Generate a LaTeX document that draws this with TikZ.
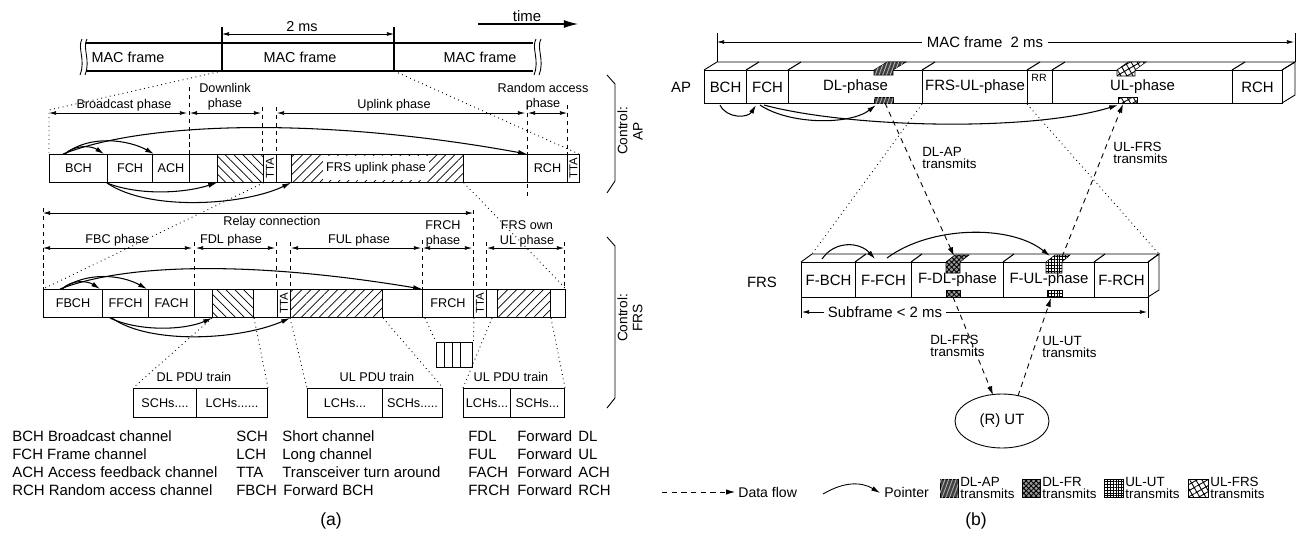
\documentclass[tikz,border=0pt]{standalone}
\usepackage{fontspec}
\setmainfont{Liberation Sans}
\usetikzlibrary{arrows.meta,patterns,patterns.meta,calc,shapes.geometric}
\newcommand\cellbx[7]{\node[cellbox,minimum width={(#4-#2)*0.02cm},minimum height={(#5-#3)*0.02cm},#6] (#1) at (#2,#3) {#7};}
\begin{document}
\begin{tikzpicture}[x=0.02cm,y=-0.02cm,
  cellbox/.style={draw,line width=0.6pt,inner sep=0pt,anchor=north west,font=\fontsize{7.2}{8}\selectfont},
  lab/.style={font=\fontsize{7.2}{8.5}\selectfont,inner sep=0pt,align=center},
  leg/.style={font=\fontsize{8.5}{10}\selectfont,inner sep=0pt,anchor=base west},
  blab/.style={font=\fontsize{8.5}{10}\selectfont,inner sep=0pt},
  tlab/.style={font=\fontsize{7.6}{6.6}\selectfont,inner sep=0pt,align=left,anchor=west},
  dim/.style={{Latex[length=4pt,width=2.2pt]}-{Latex[length=4pt,width=2.2pt]},line width=0.4pt},
  ptr/.style={-{Latex[length=5pt,width=2.8pt]},line width=0.6pt},
  dotl/.style={dotted,line width=0.5pt},
  guide/.style={dash pattern=on 2.5pt off 2pt,line width=0.4pt},
  flow/.style={dash pattern=on 3pt off 2.5pt,-{Latex[length=5pt,width=3pt]},line width=0.5pt},
  hbs/.style={pattern={Lines[angle=-45,distance=3.6pt,line width=0.4pt]}},
  hfs/.style={pattern={Lines[angle=45,distance=3.6pt,line width=0.4pt]}},
  dlap/.style={fill=black!75,postaction={pattern={Lines[angle=70,distance=2pt,line width=0.5pt]},pattern color=black!30}},
  dlfr/.style={fill=black!40,postaction={pattern={Hatch[angle=45,distance=2pt,line width=0.5pt]},pattern color=black}},
  ulut/.style={fill=white,postaction={pattern={Hatch[angle=0,distance=1.6pt,line width=0.45pt]},pattern color=black}},
  ulfrs/.style={fill=white,postaction={pattern={Hatch[angle=30,distance=3pt,line width=0.5pt]},pattern color=black}},
  ttal/.style={rotate=90,font=\fontsize{6.5}{7}\selectfont,inner sep=0pt}
]
\useasboundingbox (0,0) rectangle (1296,538);

% ================= panel (a) =================
% top MAC frame strip
\draw[line width=0.6pt] (86,43) -- (533,43) (86,71) -- (533,71);
\draw[line width=0.6pt] (222,27) -- (222,71) (394,27) -- (394,71);
\draw[line width=0.5pt] (82,39) .. controls (77,48) and (86,60) .. (80,75);
\draw[line width=0.5pt] (87,39) .. controls (82,48) and (91,60) .. (85,75);
\draw[line width=0.5pt] (536,39) .. controls (531,48) and (540,60) .. (534,75);
\draw[line width=0.5pt] (541,39) .. controls (536,48) and (545,60) .. (539,75);
\node[font=\fontsize{8.2}{9}\selectfont,inner sep=0pt] (mf1) at (128,57) {MAC frame};
\node[font=\fontsize{8.2}{9}\selectfont,inner sep=0pt] (mf2) at (300,57) {MAC frame};
\node[font=\fontsize{8.2}{9}\selectfont,inner sep=0pt] (mf3) at (480,57) {MAC frame};
\coordinate (d1) at (222,34); \coordinate (d2) at (394,34);
\draw[dim] (d1) -- (d2);
\node[font=\fontsize{8.2}{9}\selectfont,inner sep=0pt] (twoms) at (302,27) {2 ms};
\node[font=\fontsize{8.5}{9}\selectfont,inner sep=0pt] (time) at (527,16) {time};
\coordinate (t1) at (478,24); \coordinate (t2) at (578,24);
\draw[-{Latex[length=8pt,width=4.5pt]},line width=0.6pt] (t1) -- (t2);

% AP phase labels
\draw[dim] (49,113) -- (187,113);
\node[lab] (tBP) at (124,105) {Broadcast phase};
\draw[dim] (190,113) -- (261,113);
\node[lab] (tDP) at (225,97) {Downlink\\phase};
\draw[dim] (277,113) -- (525,113);
\node[lab] (tUP) at (394,105) {Uplink phase};
\draw[dim] (528,113) -- (567,113);
\node[lab] (tRP) at (543,97) {Random access\\phase};
\draw[guide] (189,87) -- (189,154);
\draw[guide] (262,107) -- (262,154);
\draw[guide] (276,107) -- (276,154);
\draw[guide] (527,105) -- (527,197);
\draw[guide] (567,105) -- (567,154);
\draw[dotl] (222,71) -- (49,110) -- (49,154);
\draw[dotl] (394,71) -- (579,154);

% AP row
\cellbx{BCH}{49}{154}{107}{182}{}{BCH}
\cellbx{FCH}{107}{154}{152}{182}{}{FCH}
\cellbx{ACH}{152}{154}{189}{182}{}{ACH}
\cellbx{e1}{189}{154}{217}{182}{}{}
\cellbx{h1}{217}{154}{263}{182}{hbs}{}
\cellbx{tta1}{263}{154}{276}{182}{}{}
\node[ttal] (tta1t) at (tta1.center) {TTA};
\cellbx{e2}{276}{154}{291}{182}{}{}
\cellbx{FRSul}{291}{154}{463}{182}{hfs}{}
\node[fill=white,font=\fontsize{7.2}{8}\selectfont,inner xsep=2pt,minimum height=0.38cm] (FRSult) at (376,168) {FRS uplink phase};
\cellbx{e3}{463}{154}{527}{182}{}{}
\cellbx{RCH}{527}{154}{567}{182}{}{RCH}
\cellbx{tta2}{567}{154}{579}{182}{}{}
\node[ttal] (tta2t) at (tta2.center) {TTA};

% AP pointers
\draw[ptr] ($(BCH.north west)+(16,0)$) .. controls +(10,-10) and +(-12,-8) .. ($(FCH.north west)+(-3,0)$);
\draw[ptr] ($(BCH.north west)+(16,0)$) .. controls +(25,-20) and +(-25,-14) .. ($(ACH.north west)+(2,0)$);
\draw[ptr] ($(BCH.north west)+(14,0)$) .. controls (150,120) and (330,118) .. (RCH.north west);
\draw[ptr] (FCH.south west) .. controls (140,196) and (185,193) .. (h1.south west);
\draw[ptr] (FCH.south west) .. controls (150,212) and (245,205) .. (FRSul.south west);

% relay / FRS phases
\draw[dim] (43,213) -- (473,213);
\node[lab] (tRC) at (272,222) {Relay connection};
\draw[dim] (43,248) -- (192,248);
\node[lab] (tFBC) at (117,240) {FBC phase};
\draw[dim] (196,248) -- (275,248);
\node[lab] (tFDL) at (231,240) {FDL phase};
\draw[dim] (291,248) -- (421,248);
\node[lab] (tFUL) at (359,240) {FUL phase};
\draw[dim] (423,248) -- (472,248);
\node[lab] (tFRCH) at (443,234) {FRCH\\phase};
\draw[dim] (487,248) -- (564,248);
\node[lab] (tFOWN) at (527,234) {FRS own\\UL phase};
\draw[guide] (43,208) -- (43,289);
\draw[guide] (194,242) -- (194,289);
\draw[guide] (276,242) -- (276,289);
\draw[guide] (290,242) -- (290,289);
\draw[guide] (422,240) -- (422,289);
\draw[guide] (473,210) -- (473,289);
\draw[guide] (486,242) -- (486,289);
\draw[guide] (564,242) -- (564,289);

% FRS row
\cellbx{FBCH}{43}{289}{102}{317}{}{FBCH}
\cellbx{FFCH}{102}{289}{148}{317}{}{FFCH}
\cellbx{FACH}{148}{289}{194}{317}{}{FACH}
\cellbx{f1}{194}{289}{212}{317}{}{}
\cellbx{fh1}{212}{289}{253}{317}{hbs}{}
\cellbx{f2}{253}{289}{277}{317}{}{}
\cellbx{ftta1}{277}{289}{290}{317}{}{}
\node[ttal] (ftta1t) at (ftta1.center) {TTA};
\cellbx{fh2}{290}{289}{382}{317}{hfs}{}
\cellbx{f3}{382}{289}{422}{317}{}{}
\cellbx{FRCH}{422}{289}{473}{317}{}{FRCH}
\cellbx{ftta2}{473}{289}{486}{317}{}{}
\node[ttal] (ftta2t) at (ftta2.center) {TTA};
\cellbx{f4}{486}{289}{497}{317}{}{}
\cellbx{fh3}{497}{289}{550}{317}{hfs}{}
\cellbx{f5}{550}{289}{565}{317}{}{}

% AP -> FRS dotted
\draw[dotl] (h1.south east) -- (FBCH.north west);
\draw[dotl] (FRSul.south east) -- (f5.north east);

% FRS pointers
\draw[ptr] ($(FBCH.north west)+(19,0)$) .. controls +(10,-10) and +(-12,-8) .. ($(FFCH.north west)+(-2,0)$);
\draw[ptr] ($(FBCH.north west)+(19,0)$) .. controls +(25,-18) and +(-25,-14) .. ($(FACH.north west)+(-1,0)$);
\draw[ptr] ($(FBCH.north west)+(17,0)$) .. controls (130,262) and (260,262) .. (FRCH.north west);
\draw[ptr] ($(FFCH.south west)+(8,0)$) .. controls (140,332) and (185,330) .. (fh1.south west);
\draw[ptr] ($(FFCH.south west)+(10,0)$) .. controls (150,345) and (240,340) .. (fh2.south west);

% PDU trains
\cellbx{dls}{133}{388}{196}{417}{}{SCHs....}
\cellbx{dll}{196}{388}{267}{417}{}{LCHs......}
\node[lab] (tdl) at (194,377) {DL PDU train};
\cellbx{ulml}{307}{388}{382}{417}{}{LCHs...}
\cellbx{ulms}{382}{388}{442}{417}{}{SCHs.....}
\node[lab] (tulm) at (377,377) {UL PDU train};
\cellbx{ulrl}{463}{388}{510}{417}{}{LCHs...}
\cellbx{ulrs}{510}{388}{564}{417}{}{SCHs...}
\node[lab] (tulr) at (511,377) {UL PDU train};
% stack of PDUs
\cellbx{stk1}{436}{342}{447}{367}{fill=white,line width=0.8pt}{}
\cellbx{stk2}{444}{342}{455}{367}{fill=white,line width=0.8pt}{}
\cellbx{stk3}{452}{342}{463}{367}{fill=white,line width=0.8pt}{}
\cellbx{stk4}{460}{342}{472}{367}{fill=white,line width=0.8pt}{}
% dotted to PDU trains
\draw[dotl] (fh1.south west) -- (dls.north west);
\draw[dotl] (fh1.south east) -- (dll.north east);
\draw[dotl] (fh2.south west) -- (ulml.north west);
\draw[dotl] (fh2.south east) -- (ulms.north east);
\draw[dotl] ($(FRCH.south west)+(3,0)$) -- (stk1.north west);
\draw[dotl] (FRCH.south east) -- (stk4.north east);
\draw[dotl] ($(f4.south west)+(6,0)$) -- (ulrl.north west);
\draw[dotl] (fh3.south east) -- (ulrs.north east);

% control brackets
\draw[line width=0.5pt] (607,75) -- (615,84) -- (615,181) -- (607,193);
\node[rotate=90,font=\fontsize{7.8}{8.6}\selectfont,align=center,inner sep=0pt] (ctlAP) at (630,131) {Control:\\AP};
\draw[line width=0.5pt] (607,237) -- (615,246) -- (615,398) -- (607,408);
\node[rotate=90,font=\fontsize{7.8}{8.6}\selectfont,align=center,inner sep=0pt] (ctlFRS) at (630,318) {Control:\\FRS};

% legend (a)
\node[leg] (la1) at (12,441) {BCH Broadcast channel};
\node[leg] (la2) at (12,459) {FCH Frame channel};
\node[leg] (la3) at (12,477) {ACH Access feedback channel};
\node[leg] (la4) at (12,495) {RCH Random access channel};
\node[leg] (lb1) at (236,441) {SCH};
\node[leg] (lb2) at (236,459) {LCH};
\node[leg] (lb3) at (236,477) {TTA};
\node[leg] (lb4) at (236,495) {FBCH};
\node[leg] (lc1) at (282,441) {Short channel};
\node[leg] (lc2) at (282,459) {Long channel};
\node[leg] (lc3) at (282,477) {Transceiver turn around};
\node[leg] (lc4) at (283,495) {Forward BCH};
\node[leg] (ld1) at (468,441) {FDL};
\node[leg] (ld2) at (468,459) {FUL};
\node[leg] (ld3) at (468,477) {FACH};
\node[leg] (ld4) at (468,495) {FRCH};
\node[leg] (le1) at (517,441) {Forward};
\node[leg] (le2) at (517,459) {Forward};
\node[leg] (le3) at (517,477) {Forward};
\node[leg] (le4) at (517,495) {Forward};
\node[leg] (lf1) at (578,441) {DL};
\node[leg] (lf2) at (578,459) {UL};
\node[leg] (lf3) at (578,477) {ACH};
\node[leg] (lf4) at (578,495) {RCH};
\node[font=\fontsize{10}{12}\selectfont,inner sep=0pt] (capa) at (331,521) {(a)};

% ================= panel (b) =================
\node[blab] (APl) at (681,87) {AP};
\node[blab] (FRSl) at (762,282) {FRS};
% MAC frame 2 ms
\draw[line width=0.5pt] (717,33) -- (717,62) (1295,33) -- (1295,62);
\coordinate (m1) at (717,42); \coordinate (m2) at (1294,42);
\draw[dim] (m1) -- (m2);
\node[blab,fill=white,inner xsep=3pt,inner ysep=1pt] (mf2ms) at (985,42) {MAC frame\ \ 2 ms};

% AP 3D bar
\draw[line width=0.5pt] (704,70) -- (717,62) -- (1295,62) -- (1282,70);
\draw[line width=0.5pt] (1282,70) -- (1295,62) -- (1295,95) -- (1282,103);
\foreach \xx in {746,788,922,1027,1052,1232} \draw[line width=0.6pt] (\xx,70) -- ++(13,-8);
\cellbx{APBCH}{704}{70}{746}{103}{font=\fontsize{8.5}{10}\selectfont}{BCH}
\cellbx{APFCH}{746}{70}{788}{103}{font=\fontsize{8.5}{10}\selectfont}{FCH}
\cellbx{APDL}{788}{70}{922}{103}{font=\fontsize{8.5}{10}\selectfont}{DL-phase}
\cellbx{APFUL}{922}{70}{1027}{103}{font=\fontsize{8.5}{10}\selectfont}{FRS-UL-phase}
\cellbx{APRR}{1027}{70}{1052}{103}{font=\fontsize{6}{7}\selectfont}{}
\node[font=\fontsize{6}{7}\selectfont,inner sep=0pt] (RRt) at (1039,78) {RR};
\cellbx{APUL}{1052}{70}{1232}{103}{font=\fontsize{8.5}{10}\selectfont}{UL-phase}
\cellbx{APRCH}{1232}{70}{1282}{103}{font=\fontsize{8.5}{10}\selectfont}{RCH}
% AP patches
\path[dlap,draw,line width=0.3pt] (874,75) -- (874,70) -- (887,62) -- (906,62) -- (893,70) -- (893,75) -- cycle;
\path[dlap,draw,line width=0.3pt] (874,97) rectangle (893,103);
\path[ulfrs,draw,line width=0.3pt] (1117,76) -- (1117,70) -- (1128,62) -- (1146,62) -- (1135,70) -- (1135,76) -- cycle;
\path[ulfrs,draw,line width=0.3pt] (1118,97) rectangle (1137,103);
\coordinate (apdlb) at (885,103);
\coordinate (apulb) at (1123,104);

% FRS 3D bar
\draw[line width=0.5pt] (801,262) -- (812,254) -- (1159,254) -- (1148,262);
\draw[line width=0.5pt] (1148,262) -- (1159,254) -- (1159,290) -- (1148,297);
\foreach \xx in {855,911,1003,1094} \draw[line width=0.6pt] (\xx,262) -- ++(11,-8);
\cellbx{FB}{801}{262}{855}{297}{font=\fontsize{8.5}{10}\selectfont}{F-BCH}
\cellbx{FF}{855}{262}{911}{297}{font=\fontsize{8.5}{10}\selectfont}{F-FCH}
\cellbx{FD}{911}{262}{1003}{297}{font=\fontsize{8.5}{10}\selectfont}{F-DL-phase}
\cellbx{FU}{1003}{262}{1094}{297}{font=\fontsize{8.5}{10}\selectfont}{F-UL-phase}
\cellbx{FR}{1094}{262}{1148}{297}{font=\fontsize{8.5}{10}\selectfont}{F-RCH}
% FRS patches
\path[dlfr,draw,line width=0.3pt] (946,273) -- (946,262) -- (955,255) -- (969,255) -- (960,262) -- (960,273) -- cycle;
\path[dlfr,draw,line width=0.3pt] (946,290) rectangle (960,297);
\path[ulut,draw,line width=0.3pt] (1046,273) -- (1046,262) -- (1055,255) -- (1070,255) -- (1062,262) -- (1062,273) -- cycle;
\path[ulut,draw,line width=0.3pt] (1047,290) rectangle (1062,297);
\coordinate (fdlt) at (954,256);
\coordinate (fdlb) at (953,297);
\coordinate (fult) at (1062,257);
\coordinate (fulb) at (1051,298);

% subframe
\draw[line width=0.5pt] (801,297) -- (801,318) (1148,297) -- (1148,318);
\coordinate (s1) at (802,312); \coordinate (s2) at (1147,312);
\draw[dim] (s1) -- (s2);
\node[blab,fill=white,inner xsep=2pt,inner ysep=1pt] (sub) at (885,312) {Subframe < 2 ms};

% dotted expansion lines
\draw[dotl] (APFUL.south west) -- (812,254);
\draw[dotl] (APRR.south west) -- (1159,254);

% pointers (b)
\draw[ptr] ($(APBCH.south west)+(16,1)$) .. controls (727,119) and (748,118) .. ($(APFCH.south west)+(10,1)$);
\draw[ptr] ($(APFCH.south west)+(14,1)$) .. controls (790,125) and (850,125) .. ($(APDL.south west)+(88,1)$);
\draw[ptr] ($(APFCH.south west)+(18,1)$) .. controls (850,128) and (1030,132) .. ($(APUL.south west)+(66,1)$);
\draw[ptr] ($(FB.north west)+(21,-3)$) .. controls (835,240) and (860,242) .. ($(FF.north west)+(20,-3)$);
\draw[ptr] ($(FF.north west)+(32,-4)$) .. controls (930,226) and (1010,224) .. ($(FU.north west)+(47,-6)$);

% data flows
\draw[flow] (apdlb) -- (fdlt);
\draw[flow] (fult) -- (apulb);
\node[draw,ellipse,line width=0.5pt,minimum width=1.88cm,minimum height=1.08cm,inner sep=0pt,font=\fontsize{8.5}{10}\selectfont] (UT) at (1002,421) {(R) UT};
\draw[flow] (fdlb) -- (993,395);
\draw[flow] (1018,396) -- (fulb);
\node[tlab] (lDLAP) at (922,158) {DL-AP\\transmits};
\node[tlab] (lULFRS) at (1113,153) {UL-FRS\\transmits};
\node[tlab] (lDLFRS) at (930,346) {DL-FRS\\transmits};
\node[tlab] (lULUT) at (1042,347) {UL-UT\\transmits};

% legend (b)
\coordinate (lf1) at (662,492); \coordinate (lf2) at (735,492);
\draw[flow] (lf1) -- (lf2);
\node[blab,anchor=west,font=\fontsize{8}{9}\selectfont] (ldf) at (738,492) {Data flow};
\coordinate (lp1) at (823,494); \coordinate (lp2) at (880,493);
\draw[ptr,line width=0.5pt] (lp1) .. controls (845,481) and (862,482) .. (lp2);
\node[blab,anchor=west,font=\fontsize{8}{9}\selectfont] (lpt) at (884,492) {Pointer};
\path[dlap,draw,line width=0.3pt] (940,479) rectangle (958,497);
\node[tlab] (lg1) at (960,488) {DL-AP\\transmits};
\path[dlfr,draw,line width=0.3pt] (1022,479) rectangle (1040,497);
\node[tlab] (lg2) at (1042,488) {DL-FR\\transmits};
\path[ulut,draw,line width=0.3pt] (1104,479) rectangle (1123,497);
\node[tlab] (lg3) at (1125,488) {UL-UT\\transmits};
\path[ulfrs,draw,line width=0.3pt] (1188,479) rectangle (1208,497);
\node[tlab] (lg4) at (1210,488) {UL-FRS\\transmits};
\node[font=\fontsize{10}{12}\selectfont,inner sep=0pt] (capb) at (976,521) {(b)};
\end{tikzpicture}
\end{document}
